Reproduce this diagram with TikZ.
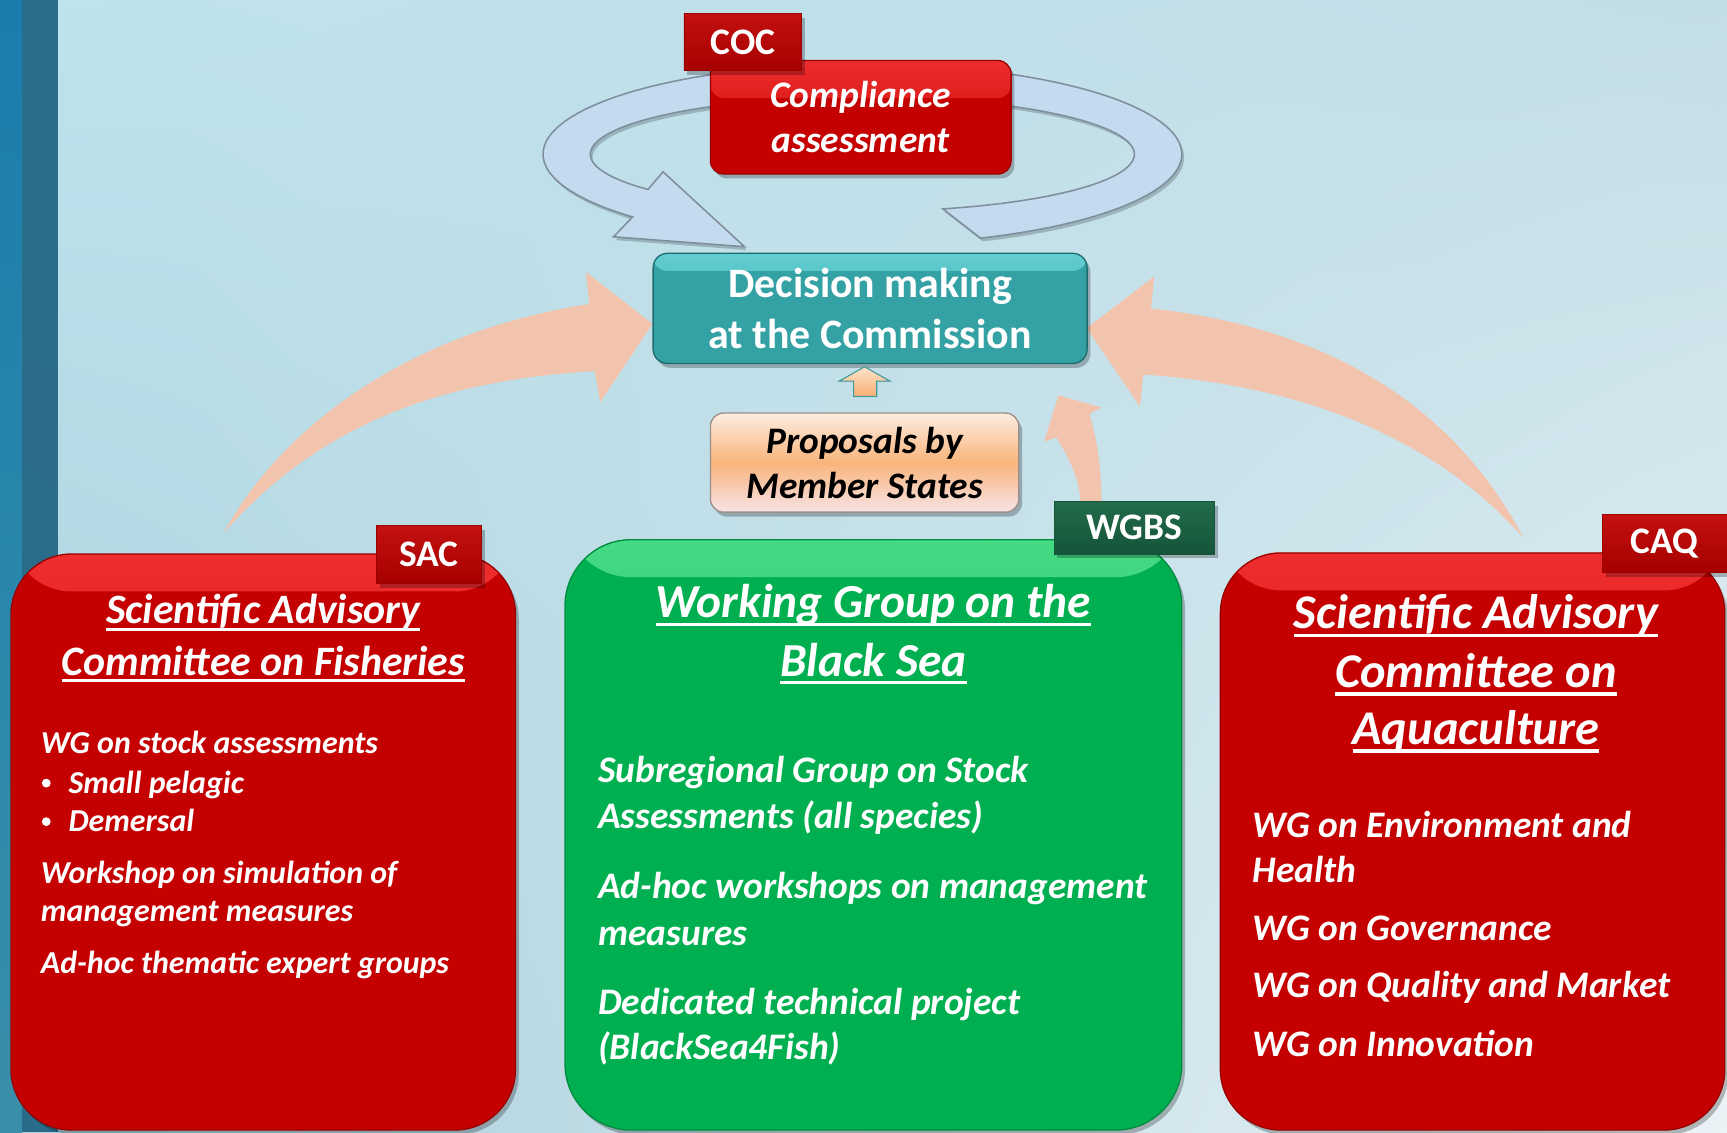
\documentclass[tikz,border=0pt]{standalone}
\usepackage{fontspec}
\setmainfont{Carlito}
\usetikzlibrary{calc,shadows,shadings}

\definecolor{bgA}{HTML}{BEE3ED}
\definecolor{bgB}{HTML}{C3DDE6}
\definecolor{bgC}{HTML}{A6CEDA}
\definecolor{bgD}{HTML}{EAF3F6}
\definecolor{stripTop}{HTML}{1A7DAE}
\definecolor{stripBot}{HTML}{3A8FA8}
\definecolor{stripDark}{HTML}{1C6281}
\definecolor{salmon}{HTML}{F2C4AE}
\definecolor{tealbox}{HTML}{34A1A4}
\definecolor{tealtop}{HTML}{62CED1}
\definecolor{tealdark}{HTML}{1F6C6F}
\definecolor{redbox}{HTML}{C40000}
\definecolor{redtop}{HTML}{EE2E2E}
\definecolor{reddark}{HTML}{9A0000}
\definecolor{redtab}{HTML}{A60000}
\definecolor{redtabtop}{HTML}{C41010}
\definecolor{greenbox}{HTML}{00B050}
\definecolor{greentop}{HTML}{45DA84}
\definecolor{greendark}{HTML}{008C3E}
\definecolor{greentab}{HTML}{15553A}
\definecolor{greentabtop}{HTML}{226B4A}
\definecolor{ringfill}{HTML}{C4DAEE}
\definecolor{ringline}{HTML}{7F8E9D}
\definecolor{propA}{HTML}{FDEDE0}
\definecolor{propB}{HTML}{F9B47C}
\definecolor{propC}{HTML}{F7E3E6}
\definecolor{propline}{HTML}{9C8E88}
\definecolor{uparrowline}{HTML}{3E9C9E}
\definecolor{uparrowA}{HTML}{FDE3CC}
\definecolor{uparrowB}{HTML}{F7AE70}

\pgfdeclarelayer{bottom}
\pgfdeclarelayer{behind}
\pgfsetlayers{bottom,behind,main}

% white bar under a title line
\newcommand\ulbar[1]{\setbox0=\hbox{#1}\rlap{\rule[-0.17em]{\wd0}{0.07em}}\box0}

\tikzset{
  softshadow/.style={drop shadow={shadow xshift=3pt, shadow yshift=-4pt, opacity=.25, fill=black}},
  redpanel/.style={fill=redbox, draw=reddark, line width=1.2, softshadow,
    path picture={\shade[top color=redtop, bottom color=redbox]
      ([yshift=2pt]path picture bounding box.north west) rectangle ([yshift=-34pt]path picture bounding box.north east);}},
  greenpanel/.style={fill=greenbox, draw=greendark, line width=1.2, softshadow,
    path picture={\shade[top color=greentop, bottom color=greenbox]
      ([yshift=2pt]path picture bounding box.north west) rectangle ([yshift=-34pt]path picture bounding box.north east);}},
  redtabbox/.style={top color=redtabtop, bottom color=redtab, draw=reddark, line width=.8, softshadow,
    text=white, inner sep=0, font=\fontsize{34}{34}\selectfont\bfseries},
  greentabbox/.style={top color=greentabtop, bottom color=greentab, draw=greentab, line width=.8, softshadow,
    text=white, inner sep=0, font=\fontsize{34}{34}\selectfont\bfseries},
  headline/.style={anchor=base, inner sep=0, text=white},
  itemline/.style={anchor=base west, inner sep=0, text=white},
  dot/.style={circle, fill=white, minimum size=8, inner sep=0},
}

\begin{document}
\begin{tikzpicture}[x=1pt,y=-1pt]
\useasboundingbox (0,0) rectangle (1568,1028);

% backdrop and the sea strip on the left
\begin{pgfonlayer}{bottom}
\shade[upper left=bgA, upper right=bgB, lower left=bgC, lower right=bgD] (0,0) rectangle (1568,1028);
\shade[top color=stripTop, bottom color=stripBot] (0,0) rectangle (20,1028);
\fill[stripDark, opacity=.9] (20,0) rectangle (53,1028);
\end{pgfonlayer}

% ---------- boxes ----------
\node[redpanel, rounded corners=12, minimum width=273, minimum height=103, inner sep=0,
      text=white, align=center, font=\fontsize{34}{41}\selectfont\bfseries\itshape]
      (coc) at (781.5,106.5) {Compliance\\assessment};

\node[fill=tealbox, draw=tealdark, line width=1.2, rounded corners=13, softshadow,
      minimum width=394, minimum height=100, inner sep=0,
      path picture={\shade[top color=tealtop, bottom color=tealbox]
        ([yshift=1pt]path picture bounding box.north west) rectangle ([yshift=-16pt]path picture bounding box.north east);},
      text=white, align=center, font=\fontsize{38}{47}\selectfont\bfseries]
      (dec) at (790,280) {Decision making\\at the Commission};

\node[draw=propline, line width=1.2, rounded corners=12, softshadow,
      top color=propA, bottom color=propC, middle color=propB,
      minimum width=280, minimum height=90, inner sep=0,
      text=black, align=center, font=\fontsize{34}{41}\selectfont\bfseries\itshape]
      (prop) at (785,420) {Proposals by\\Member States};

\node[redpanel, rounded corners=55, minimum width=458, minimum height=523, inner sep=0] (sac) at (239,764.5) {};
\node[greenpanel, rounded corners=60, minimum width=560, minimum height=536, inner sep=0] (wgbs) at (793,758) {};
\node[redpanel, rounded corners=55, minimum width=458, minimum height=524, inner sep=0] (caq) at (1337,764) {};

% small arrow from the proposals up to the decision box
\filldraw[draw=uparrowline, line width=1, top color=uparrowA, bottom color=uparrowB]
  (775,360) -- (775,346) -- (762,346) -- (785,333) -- (808,346) -- (796,346) -- (796,360) -- cycle;

% ---------- salmon arrows into the decision box ----------
\coordinate (lefttip) at ($(dec.west)+(0,14)$);
\coordinate (righttip) at ($(dec.east)+(-1,18)$);
\coordinate (sactail) at (203,484);
\coordinate (caqtail) at (1383,488);
\coordinate (wgbsfoot) at (990,458);

\begin{pgfonlayer}{behind}
\fill[salmon] (sactail) .. controls (260,380) and (380,300) .. (535,276) -- (532,247)
  -- (lefttip) -- (545,365) -- (540,337) .. controls (400,345) and (290,385) .. (sactail) -- cycle;
\fill[salmon] (caqtail) .. controls (1310,350) and (1180,295) .. (1045,280) -- (1048,251)
  -- (righttip) -- (1035,369) -- (1038,340) .. controls (1180,350) and (1300,395) .. (caqtail) -- cycle;
\fill[salmon] ($(wgbsfoot)+(-9,0)$) .. controls (981,435) and (970,415) .. (959,397) -- (948,401)
  -- (961,359) -- (1000,370) -- (989,376) .. controls (995,395) and (1000,420) .. ($(wgbsfoot)+(10,0)$) -- cycle;

% ring of the compliance loop, passing behind the compliance box
\filldraw[ringfill, draw=ringline, line width=1.4,
          drop shadow={shadow xshift=2pt, shadow yshift=-3pt, opacity=.2, fill=black}]
  ({783+290*cos(68.3)},{140+82*sin(68.3)})
  arc[start angle=68.3, end angle=-224, x radius=290, y radius=82]
  -- (557,215) -- (676,224) -- (602,156)
  -- ({783+247*cos(-218)},{140+52*sin(-218)})
  arc[start angle=-218, end angle=72.8, x radius=247, y radius=52]
  -- cycle;
\end{pgfonlayer}

% ---------- tabs ----------
\node[redtabbox, minimum width=107, minimum height=52] (coctab) at (674.5,38) {COC};
\node[redtabbox, minimum width=95, minimum height=53] (sactab) at (389.5,503.5) {SAC};
\node[greentabbox, minimum width=146, minimum height=48] (wgbstab) at (1030,479) {WGBS};
\node[redtabbox, minimum width=113, minimum height=53] (caqtab) at (1511.5,493.5) {CAQ};

% ---------- SAC text ----------
\begin{scope}[font=\fontsize{38}{38}\selectfont\bfseries\itshape]
\node[headline] (sacT1) at (239,566) {\ulbar{Scientific Advisory}};
\node[headline] (sacT2) at (239,613) {\ulbar{Committee on Fisheries}};
\end{scope}
\begin{scope}[font=\fontsize{29}{29}\selectfont\bfseries\itshape]
\node[itemline] (sacI1) at (37,684) {WG on stock assessments};
\node[dot] (sacB1) at (42,711) {};
\node[itemline] (sacI2) at (62,720) {Small pelagic};
\node[dot] (sacB2) at (42,746) {};
\node[itemline] (sacI3) at (62,755) {Demersal};
\node[itemline] (sacI4) at (37,802) {Workshop on simulation of};
\node[itemline] (sacI5) at (37,837) {management measures};
\node[itemline] (sacI6) at (37,884) {Ad-hoc thematic expert groups};
\end{scope}

% ---------- WGBS text ----------
\begin{scope}[font=\fontsize{43}{43}\selectfont\bfseries\itshape]
\node[headline] (wgT1) at (793,561) {\ulbar{Working Group on the}};
\node[headline] (wgT2) at (793,614) {\ulbar{Black Sea}};
\end{scope}
\begin{scope}[font=\fontsize{34}{34}\selectfont\bfseries\itshape]
\node[itemline] (wgI1) at (543,710) {Subregional Group on Stock};
\node[itemline] (wgI2) at (543,752) {Assessments (all species)};
\node[itemline] (wgI3) at (543,816) {Ad-hoc workshops on management};
\node[itemline] (wgI4) at (543,858) {measures};
\node[itemline] (wgI5) at (543,921) {Dedicated technical project};
\node[itemline] (wgI6) at (543,962) {(BlackSea4Fish)};
\end{scope}

% ---------- CAQ text ----------
\begin{scope}[font=\fontsize{44}{44}\selectfont\bfseries\itshape]
\node[headline] (caT1) at (1340,571) {\ulbar{Scientific Advisory}};
\node[headline] (caT2) at (1340,624) {\ulbar{Committee on}};
\node[headline] (caT3) at (1340,676) {\ulbar{Aquaculture}};
\end{scope}
\begin{scope}[font=\fontsize{34}{34}\selectfont\bfseries\itshape]
\node[itemline] (caI1) at (1137,760) {WG on Environment and};
\node[itemline] (caI2) at (1137,801) {Health};
\node[itemline] (caI3) at (1137,854) {WG on Governance};
\node[itemline] (caI4) at (1137,906) {WG on Quality and Market};
\node[itemline] (caI5) at (1137,959) {WG on Innovation};
\end{scope}

\end{tikzpicture}
\end{document}
